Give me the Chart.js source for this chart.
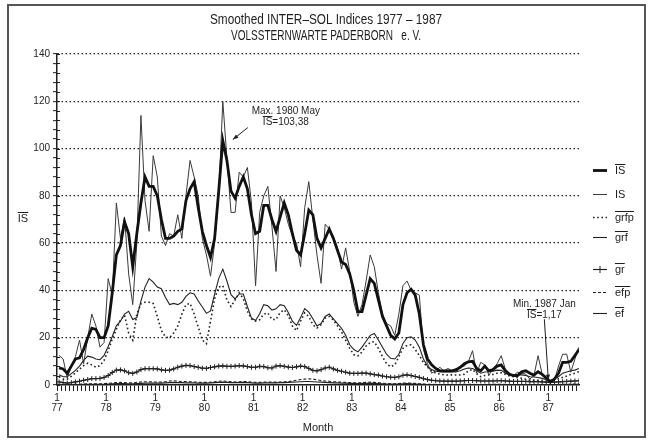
<!DOCTYPE html>
<html>
<head>
<meta charset="utf-8">
<script src="https://cdn.jsdelivr.net/npm/chart.js@4.4.1/dist/chart.umd.min.js"></script>
<style>
html, body { margin: 0; padding: 0; background: #fff; }
#wrap { width: 648px; height: 441px; }
</style>
</head>
<body>
<div id="wrap"><canvas id="myChart" width="648" height="441"></canvas></div>
<script>
// monthly values, Jan 1977 .. Aug 1987 (128 months)
const yearLabels = ['77', '78', '79', '80', '81', '82', '83', '84', '85', '86', '87'];

const isMean = [
    7.2, 6.8, 5, 8, 11, 11.5, 15, 20, 24, 23.5, 20, 20,
    25, 39, 55, 59, 69, 64, 50, 64, 77, 88, 84, 84,
    80, 70, 62, 62, 63, 65, 66, 78, 83, 86, 75, 65,
    59, 54, 62, 82, 103.38, 95, 82, 79, 84, 88, 83, 72,
    64, 65, 76, 76, 70, 65, 71, 77, 72, 64, 57, 55,
    64, 74, 72, 62, 58, 62, 66, 62, 57, 52, 51, 47,
    40, 31, 31, 38, 45, 43, 36, 29, 25, 21, 19.5, 22,
    34, 39, 40.5, 38, 30, 17, 11, 8.5, 7, 6, 6, 6,
    6, 6.5, 7.5, 9, 9.8, 10, 7, 6, 8, 6, 6.5, 8,
    8.5, 6, 4.5, 4, 4, 5.6, 6, 5, 4.2, 5.6, 4.5, 3,
    1.17, 2.5, 5, 9.6, 9.6, 10, 12.5, 15
];
const isRaw = [
    12.5, 11, 3, 8, 12, 19, 9, 20, 30, 25, 16, 18,
    45, 38, 77, 62, 71, 47, 34, 60, 114, 78, 65, 97,
    88, 63, 59, 64, 63, 72, 62, 80, 95, 88, 80, 62,
    55, 46, 60, 80, 120, 96, 73, 73, 90, 88, 92, 77,
    42, 73, 80, 84, 67, 48, 80, 75, 68, 63, 60, 50,
    75, 86, 70, 55, 43, 68, 66, 63, 58, 49, 58, 48,
    35, 29, 34, 44, 55, 50, 39, 30, 26, 25, 21, 30,
    42, 44, 40, 39, 38, 15, 9, 5, 6, 7.5, 6, 7,
    6, 5.4, 8, 8, 10, 14.5, 5, 9.6, 8.5, 4.2, 6.8, 9,
    12.4, 6.8, 5, 4, 5.4, 5, 4.6, 2.5, 4, 12.4, 4.6, 2,
    1.1, 2, 8, 13, 13, 5.4, 11, 16
];
const grfpMean = [
    3.5, 2.5, 2.5, 3.7, 5.2, 6.7, 8.2, 9.2, 8.5, 7.5, 8.2, 10.4,
    14.5, 19.5, 23.5, 27.5, 29.5, 22, 19, 30, 34.4, 35, 35, 34.5,
    29, 23, 20.3, 20, 22, 25, 30, 34, 34.5, 30, 24.5, 19,
    17.5, 27, 36.5, 41.4, 42, 36, 33.2, 36, 39, 36.5, 31.2, 28,
    27, 27.6, 30, 30.5, 27.7, 27.7, 30.7, 31.8, 29.4, 24.9, 23, 27,
    30.5, 29, 25.5, 24.1, 25.5, 28.3, 29, 27.5, 25, 22.5, 19, 15.5,
    12.8, 12.3, 14, 16.5, 18, 18.3, 15.5, 12, 9, 7.7, 8.5, 12,
    15.5, 16.8, 17, 15, 12.5, 9.5, 7.5, 6, 5, 4.6, 4.3, 4.2,
    4.3, 4.2, 4.2, 4.5, 6, 6.6, 4.8, 3.5, 4, 4.3, 4.5, 5,
    5.2, 4.5, 3.8, 3.5, 3.2, 2.8, 2.4, 2, 2, 1.8, 1.6, 1.4,
    1.4, 2, 2.6, 3.2, 3.8, 4.5, 5, 5.6
];
const grfMean = [
    4.3, 3.5, 3.5, 4.8, 6.2, 8, 10.4, 12.2, 11.8, 11, 10.7, 12.5,
    16.3, 20.5, 25, 27, 30, 31.2, 27.7, 28.5, 35.5, 41.4, 45, 43.5,
    41.4, 40.7, 37, 34, 34.5, 34, 35, 37.5, 39, 38.5, 35.5, 33,
    30.3, 31.3, 38.4, 45, 49, 44, 38.2, 36.4, 38.5, 38.5, 33.2, 28.3,
    27.3, 30.1, 34, 33.5, 31.7, 32.2, 34, 33.5, 30.7, 27, 25.2, 28.5,
    32.3, 30.8, 28, 25, 26, 29, 30, 28, 26, 24, 21, 17,
    15, 14, 16, 18.5, 21, 21.8, 19, 16, 13, 11.3, 11, 13,
    17.6, 20, 20.4, 19, 16, 11, 8, 6.5, 5.8, 5.6, 5.5, 5.6,
    5.5, 5.6, 6, 6.8, 7.2, 7, 6, 5, 5.5, 5.6, 5.8, 6.3,
    6.2, 5, 4.2, 4.2, 4.4, 4.3, 4, 3.5, 3.4, 3.2, 2.8, 2.2,
    2, 2.6, 3.5, 5, 5.5, 6, 6.3, 7
];
const grMean = [
    1.3, 1, 0.8, 1, 1.3, 1.6, 2, 2.3, 2.7, 2.7, 2.8, 3.2,
    4, 5.3, 6.3, 6.4, 6, 5.2, 4.9, 5.5, 6.5, 6.9, 6.9, 6.9,
    6.8, 6.4, 6.2, 6.3, 6.8, 7.5, 8, 8.3, 8.2, 7.8, 7.5, 7.1,
    7, 7.4, 7.7, 8, 8.1, 7.9, 7.9, 8, 8.2, 8.1, 7.8, 7.5,
    7.5, 7.9, 7.8, 7.3, 7.2, 8, 8.2, 7.9, 7.6, 7.4, 7.7, 8,
    7.8, 7, 6.2, 6, 6.5, 7.2, 7.5, 6.8, 6.2, 5.8, 5.4, 5,
    4.9, 4.9, 5, 5, 4.7, 4.4, 4.2, 3.8, 3.5, 3.3, 3.2, 3.5,
    4.1, 4.3, 4, 3.6, 3.2, 2.7, 2.3, 2, 1.8, 1.7, 1.6, 1.6,
    1.6, 1.6, 1.7, 1.8, 1.9, 1.9, 1.8, 1.7, 1.7, 1.7, 1.7, 1.8,
    1.8, 1.7, 1.6, 1.5, 1.5, 1.5, 1.5, 1.4, 1.4, 1.4, 1.3, 1.2,
    1.2, 1.2, 1.3, 1.4, 1.5, 1.6, 1.7, 1.8
];
const efpMean = [
    0.3, 0.2, 0.2, 0.2, 0.3, 0.3, 0.4, 0.5, 0.5, 0.5, 0.5, 0.6,
    0.7, 0.8, 1.0, 1.1, 1.0, 0.9, 0.9, 1.1, 1.3, 1.4, 1.4, 1.3,
    1.3, 1.2, 1.4, 1.7, 1.8, 1.6, 1.5, 1.5, 1.4, 1.3, 1.2, 1.1,
    1.1, 1.2, 1.4, 1.6, 1.7, 1.6, 1.4, 1.3, 1.4, 1.5, 1.4, 1.2,
    1.1, 1.1, 1.2, 1.3, 1.2, 1.2, 1.3, 1.4, 1.5, 1.7, 2.0, 2.3,
    2.5, 2.6, 2.5, 2.2, 1.9, 1.7, 1.6, 1.4, 1.3, 1.2, 1.1, 1.0,
    0.9, 0.9, 1.0, 1.1, 1.2, 1.1, 1.0, 0.8, 0.6, 0.5, 0.5, 0.6,
    0.8, 0.9, 0.8, 0.7, 0.5, 0.4, 0.3, 0.3, 0.2, 0.2, 0.2, 0.2,
    0.2, 0.2, 0.3, 0.3, 0.3, 0.3, 0.2, 0.2, 0.2, 0.3, 0.3, 0.3,
    0.3, 0.2, 0.2, 0.2, 0.2, 0.2, 0.1, 0.1, 0.2, 0.2, 0.1, 0.1,
    0.1, 0.1, 0.2, 0.3, 0.3, 0.4, 0.4, 0.5
];
const efMean = [
    0.2, 0.1, 0.1, 0.1, 0.2, 0.2, 0.3, 0.3, 0.3, 0.3, 0.3, 0.3,
    0.4, 0.5, 0.6, 0.6, 0.6, 0.5, 0.5, 0.6, 0.7, 0.8, 0.8, 0.8,
    0.8, 0.8, 0.9, 1.0, 1.1, 1.0, 1.0, 0.9, 0.9, 0.9, 0.8, 0.8,
    0.8, 0.9, 1.0, 1.1, 1.2, 1.1, 1.0, 1.0, 1.0, 1.1, 1.0, 0.9,
    0.8, 0.8, 0.9, 0.9, 0.9, 0.9, 1.0, 1.0, 1.1, 1.2, 1.3, 1.4,
    1.5, 1.5, 1.4, 1.3, 1.2, 1.1, 1.0, 0.9, 0.9, 0.8, 0.8, 0.7,
    0.7, 0.6, 0.7, 0.7, 0.8, 0.7, 0.6, 0.5, 0.4, 0.4, 0.4, 0.4,
    0.5, 0.6, 0.5, 0.4, 0.3, 0.3, 0.2, 0.2, 0.2, 0.1, 0.1, 0.1,
    0.1, 0.1, 0.2, 0.2, 0.2, 0.2, 0.1, 0.1, 0.1, 0.2, 0.2, 0.2,
    0.2, 0.1, 0.1, 0.1, 0.1, 0.1, 0.1, 0.1, 0.1, 0.1, 0.1, 0.1,
    0.0, 0.1, 0.1, 0.2, 0.2, 0.2, 0.3, 0.3
];

const INK = '#1e1e1e';
const FONT = '"Liberation Sans", Arial, sans-serif';

// values are monthly means, plotted in the middle of their month
function series(values) {
    return values.map((v, i) => ({ x: i + 0.5, y: v }));
}

// text with an overline on the parts flagged bar
function barText(ctx, parts, x, y, align, size) {
    const widths = parts.map(p => ctx.measureText(p.t).width);
    const total = widths.reduce((a, b) => a + b, 0);
    let cx = align === 'center' ? x - total / 2 : x;
    ctx.textAlign = 'left';
    ctx.textBaseline = 'middle';
    parts.forEach((p, k) => {
        ctx.fillText(p.t, cx, y);
        if (p.bar) {
            ctx.beginPath();
            ctx.lineWidth = 1;
            const oy = Math.round(y - size * 0.62) + 0.5;
            ctx.moveTo(cx, oy);
            ctx.lineTo(cx + widths[k], oy);
            ctx.stroke();
        }
        cx += widths[k];
    });
}

// plotter lettering is narrow: squeeze a line to a given width
function narrowText(ctx, text, cx, y, width) {
    const w = ctx.measureText(text).width;
    ctx.save();
    ctx.translate(cx, y);
    ctx.scale(Math.min(1, width / w), 1);
    ctx.textAlign = 'center';
    ctx.textBaseline = 'middle';
    ctx.fillText(text, 0, 0);
    ctx.restore();
}

function arrow(ctx, x1, y1, x2, y2) {
    const a = Math.atan2(y2 - y1, x2 - x1);
    ctx.beginPath();
    ctx.lineWidth = 1;
    ctx.moveTo(x1, y1);
    ctx.lineTo(x2, y2);
    ctx.stroke();
    ctx.beginPath();
    ctx.moveTo(x2, y2);
    ctx.lineTo(x2 - 6 * Math.cos(a - 0.35), y2 - 6 * Math.sin(a - 0.35));
    ctx.lineTo(x2 - 6 * Math.cos(a + 0.35), y2 - 6 * Math.sin(a + 0.35));
    ctx.closePath();
    ctx.fill();
}

const legendItems = [
    { ds: 0, parts: [{ t: 'IS', bar: true }] },
    { ds: 1, parts: [{ t: 'IS' }] },
    { ds: 2, parts: [{ t: 'grfp', bar: true }] },
    { ds: 3, parts: [{ t: 'grf', bar: true }] },
    { ds: 4, parts: [{ t: 'gr', bar: true }] },
    { ds: 5, parts: [{ t: 'efp', bar: true }] },
    { ds: 6, parts: [{ t: 'ef', bar: true }] }
];
const legendRows = [170, 194, 217, 237, 269, 292, 313];

const decor = {
    id: 'decor',
    afterDraw(chart) {
        const ctx = chart.ctx;
        const area = chart.chartArea;
        const xs = chart.scales.x;
        const ys = chart.scales.y;
        ctx.save();
        ctx.strokeStyle = INK;
        ctx.fillStyle = INK;

        // outer frame
        ctx.lineWidth = 2;
        ctx.strokeStyle = '#555';
        ctx.strokeRect(8, 5, 637, 432);
        ctx.strokeStyle = INK;

        // inner half of the y tick marks
        ctx.lineWidth = 1;
        ys.ticks.forEach(t => {
            const py = Math.round(ys.getPixelForValue(t.value)) + 0.5;
            ctx.beginPath();
            ctx.moveTo(area.left, py);
            ctx.lineTo(area.left + 3, py);
            ctx.stroke();
        });

        // title
        ctx.font = '14px ' + FONT;
        narrowText(ctx, 'Smoothed INTER\u2013SOL Indices 1977 \u2013 1987', 326, 20, 232);
        narrowText(ctx, 'VOLSSTERNWARTE PADERBORN   e. V.', 326, 36, 190);

        // axis titles
        ctx.font = '11px ' + FONT;
        ctx.textAlign = 'center';
        ctx.textBaseline = 'middle';
        ctx.fillText('Month', (area.left + area.right) / 2, 428);
        barText(ctx, [{ t: 'IS', bar: true }], 23, 219, 'center', 11);

        // maximum annotation
        ctx.font = '10px ' + FONT;
        const maxI = isMean.indexOf(Math.max(...isMean));
        const mx = xs.getPixelForValue(maxI + 0.5);
        const my = ys.getPixelForValue(isMean[maxI]);
        arrow(ctx, mx + 25, my - 13, mx + 10, my - 1);
        ctx.textAlign = 'center';
        ctx.fillText('Max. 1980 May', mx + 63, my - 29);
        barText(ctx, [{ t: 'IS', bar: true }, { t: '=103,38' }], mx + 63, my - 18, 'center', 10);

        // minimum annotation
        const minI = 120;
        const nx = xs.getPixelForValue(minI + 0.5);
        const ny = ys.getPixelForValue(isMean[minI]);
        arrow(ctx, nx - 6, ny - 63, nx - 2, ny - 2);
        ctx.textAlign = 'center';
        ctx.fillText('Min. 1987 Jan', nx - 6, ny - 78);
        barText(ctx, [{ t: 'IS', bar: true }, { t: '=1,17' }], nx - 6, ny - 67, 'center', 10);

        // legend
        ctx.font = '11px ' + FONT;
        legendItems.forEach((item, k) => {
            const ds = chart.data.datasets[item.ds];
            const y = legendRows[k] + 0.5;
            ctx.save();
            ctx.strokeStyle = ds.borderColor;
            ctx.lineWidth = ds.borderWidth;
            ctx.setLineDash(ds.borderDash || []);
            ctx.beginPath();
            ctx.moveTo(593, y);
            ctx.lineTo(607, y);
            ctx.stroke();
            ctx.setLineDash([]);
            if (ds.pointStyle === 'cross') {
                ctx.lineWidth = 1;
                ctx.beginPath();
                ctx.moveTo(600, y - 3.5);
                ctx.lineTo(600, y + 3.5);
                ctx.stroke();
            }
            ctx.restore();
            barText(ctx, item.parts, 615, y, 'left', 11);
        });
        ctx.restore();
    }
};

const ctx = document.getElementById('myChart').getContext('2d');

const lineBase = { pointRadius: 0, tension: 0, fill: false };

new Chart(ctx, {
    type: 'line',
    data: {
        datasets: [
            { ...lineBase, label: 'IS mean', data: series(isMean), borderColor: '#111', borderWidth: 2.8 },
            { ...lineBase, label: 'IS', data: series(isRaw), borderColor: '#3a3a3a', borderWidth: 1 },
            { ...lineBase, label: 'grfp', data: series(grfpMean), borderColor: '#222', borderWidth: 1.6, borderDash: [1.6, 2.6] },
            { ...lineBase, label: 'grf', data: series(grfMean), borderColor: '#222', borderWidth: 1.1 },
            { ...lineBase, label: 'gr', data: series(grMean), borderColor: '#222', borderWidth: 1.2,
              pointStyle: 'cross', pointRadius: 2.5, pointBorderWidth: 1, pointBorderColor: '#222' },
            { ...lineBase, label: 'efp', data: series(efpMean), borderColor: '#222', borderWidth: 1.1, borderDash: [3, 2] },
            { ...lineBase, label: 'ef', data: series(efMean), borderColor: '#222', borderWidth: 1.1 }
        ]
    },
    options: {
        responsive: false,
        animation: false,
        devicePixelRatio: 1,
        layout: { padding: { top: 54, left: 0, right: 69, bottom: 26 } },
        plugins: {
            legend: { display: false },
            title: { display: false },
            tooltip: { enabled: false }
        },
        scales: {
            x: {
                type: 'linear',
                min: 0,
                max: 127.5,
                afterFit: s => { s.height = 30; },
                afterBuildTicks: axis => {
                    axis.ticks = isMean.map((v, i) => ({ value: i }));
                },
                ticks: {
                    autoSkip: false,
                    maxRotation: 0,
                    minRotation: 0,
                    padding: 2,
                    color: INK,
                    font: { family: FONT, size: 10, lineHeight: 1.0 },
                    callback: v => (v % 12 === 0 ? ['1', yearLabels[v / 12]] : '')
                },
                grid: {
                    drawOnChartArea: false,
                    drawTicks: true,
                    tickLength: 6,
                    tickColor: INK,
                    tickWidth: 1
                },
                border: { display: true, color: INK, width: 1.5 }
            },
            y: {
                min: 0,
                max: 140,
                afterFit: s => { s.width = 57; },
                ticks: {
                    stepSize: 4,
                    autoSkip: false,
                    padding: 3,
                    color: INK,
                    font: { family: FONT, size: 10 },
                    callback: v => (v % 20 === 0 ? v : '')
                },
                grid: {
                    color: c => (c.tick && c.tick.value % 20 === 0 && c.tick.value > 0 ? '#222' : 'rgba(0,0,0,0)'),
                    lineWidth: 1.3,
                    tickLength: 4,
                    tickColor: INK,
                    tickWidth: 1
                },
                border: { display: true, color: INK, width: 1.5, dash: [1.5, 2.5] }
            }
        }
    },
    plugins: [decor]
});
</script>
</body>
</html>
